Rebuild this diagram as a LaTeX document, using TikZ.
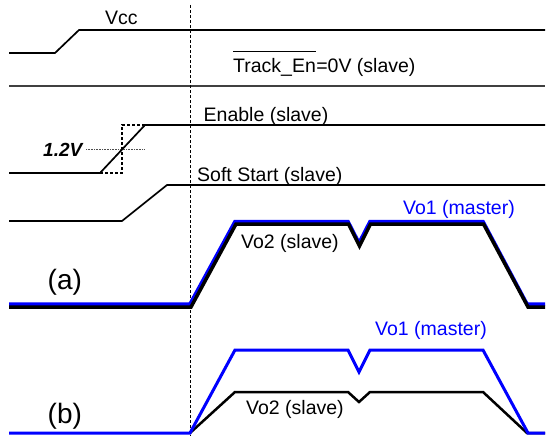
\documentclass[tikz,border=0pt]{standalone}
\usepackage{fontspec}
\setmainfont{Liberation Sans}
\begin{document}
\begin{tikzpicture}[x=1pt,y=-1pt,
  sig/.style={line width=1.7pt, line join=miter},
  sepline/.style={line width=1.4pt, black!75},
  thickline/.style={line width=3.5pt, line join=miter},
  thinblue/.style={line width=3pt, blue, line join=miter},
  thinblack/.style={line width=2.5pt, black, line join=miter},
  markline/.style={line width=1pt, dash pattern=on 3pt off 2pt},
  stepbox/.style={line width=1.3pt, dash pattern=on 3pt off 2pt},
  levelline/.style={line width=0.5pt, black!70, dash pattern=on 1pt off 0.6pt},
  lbl/.style={anchor=base west, inner sep=0pt, font=\fontsize{19.5}{23}\selectfont},
  biglbl/.style={anchor=base west, inner sep=0pt, font=\fontsize{28}{32}\selectfont}]
\useasboundingbox[fill=white] (0,0) rectangle (546,436);

% Vcc
\draw[sig] (9,53) -- (55,53) -- (79,30) -- (545,30);
\node[lbl] (vcc) at (105,25) {Vcc};

% Track_En
\draw[sepline] (9,86) -- (545,86);
\node[lbl] (tek) at (233,72) {Track\_En};
\node[lbl] (tev) at (tek.base east) {=0V (slave)};
\draw[line width=1.3pt] ([yshift=6pt]tek.north west) -- ([yshift=6pt]tek.north east);

% Enable
\draw[stepbox] (100,173) -- (122,173) -- (122,125) -- (145,125);
\draw[levelline] (86,149) -- (145,149);
\draw[sig] (9,173) -- (100,173) -- (145,125) -- (545,125);
\node[lbl] (en) at (203.5,121) {Enable (slave)};
\node[lbl, font=\fontsize{19}{23}\selectfont\bfseries\itshape] (v12) at (43,156) {1.2V};

% Soft start
\draw[sig] (9,221) -- (122,221) -- (167,185) -- (545,185);
\node[lbl] (ss) at (197,181) {Soft Start (slave)};

% dashed time marker
\draw[markline] (190,5) -- (190,436);

% (a)
\draw[thickline, blue] (9,304) -- (190,304) -- (235,221.5) -- (348,221.5) -- (359,243) -- (370,221.5) -- (483,221.5) -- (527,304) -- (545,304);
\draw[thickline, black] (9,307) -- (191,307) -- (236,224) -- (348.5,224) -- (359.5,246) -- (370.5,224) -- (483.5,224) -- (528,307) -- (545,307);
\node[lbl, text=blue] (vo1a) at (403,214) {Vo1 (master)};
\node[lbl] (vo2a) at (241,248) {Vo2 (slave)};
\node[biglbl] (la) at (47.5,289) {(a)};

% (b)
\draw[thinblack] (190,433) -- (235,392) -- (348,392) -- (359,402) -- (370,392) -- (483,392) -- (527,433) -- (545,433);
\draw[thinblue] (9,433) -- (190,433) -- (235,350) -- (348,350) -- (359,372) -- (370,350) -- (483,350) -- (528,433) -- (545,433);
\node[lbl, text=blue] (vo1b) at (375,335) {Vo1 (master)};
\node[lbl] (vo2b) at (246,414) {Vo2 (slave)};
\node[biglbl] (lb) at (47.5,423) {(b)};
\end{tikzpicture}
\end{document}
